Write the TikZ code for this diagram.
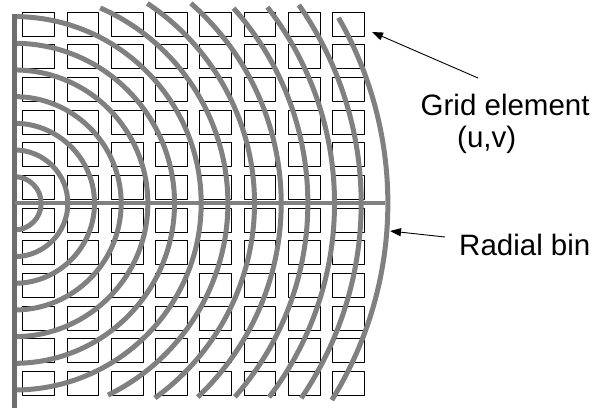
\documentclass[tikz,border=0pt]{standalone}
\usepackage{fontspec}
\setmainfont{Liberation Sans}
\usetikzlibrary{arrows.meta}
\definecolor{bingray}{RGB}{128,128,128}
\definecolor{axisgray}{RGB}{110,110,110}

\begin{document}
\begin{tikzpicture}[x=1pt, y=-1pt, line join=round, >={Triangle[length=11pt,width=8pt]},
  cell/.style={draw=black, line width=0.9pt},
  bin/.style={draw=bingray, line width=5pt},
  lbl/.style={font=\fontsize{29.5}{33}\selectfont, inner sep=0pt, anchor=base west},
  pointer/.style={->, line width=0.9pt}]
\useasboundingbox (0,0) rectangle (595,410);
\coordinate (o) at (14.5,203.3);
% grid elements
\foreach \i in {0,...,7} {
  \foreach \j in {0,...,11} {
    \draw[cell] ({22.7+44.3*\i},{12.3+32.64*\j}) rectangle +(31.7,24);
  }
}
% radial bins: full half circles
\foreach \k in {1,...,7} {
  \draw[bin] (o) ++(-90:{26.67*\k}) arc (-90:90:{26.67*\k});
}
% radial bins cut at top and bottom
\foreach \k/\a/\b in {8/66.3/64, 9/56.4/54.2, 10/48.6/46.6, 11/41.7/41.3,
                      12/37.8/37.3, 13/34.9/34.2, 14/29.8/31.8} {
  \draw[bin] (o) ++(-\a:{26.67*\k}) arc (-\a:\b:{26.67*\k});
}
% axes
\coordinate (vtop) at (14.5,14);
\coordinate (vbot) at (14.5,408);
\coordinate (hend) at (385,203.3);
\draw[axisgray, line width=5pt] (vtop) -- (vbot);
\draw[bingray, line width=4pt] (o) -- (hend);
% labels
\node[lbl] (grid) at (420.5,115) {Grid element};
\node[lbl] (uv) at (457,147) {(u,v)};
\node[lbl] (radial) at (459,255) {Radial bin};
% arrows
\coordinate (gridtail) at (478,78);
\coordinate (gridtip) at (372,32);
\coordinate (bintail) at (445,237);
\coordinate (bintip) at (390,231);
\draw[pointer] (gridtail) -- (gridtip);
\draw[pointer] (bintail) -- (bintip);
\end{tikzpicture}
\end{document}
